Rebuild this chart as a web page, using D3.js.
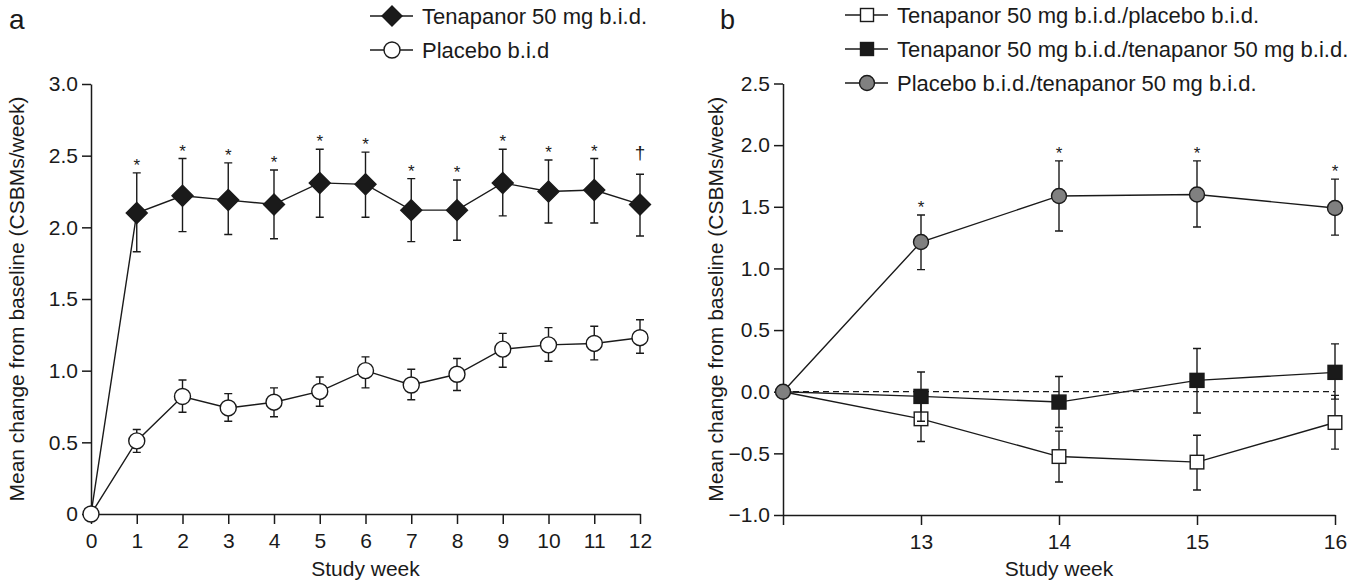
<!DOCTYPE html>
<html>
<head>
<meta charset="utf-8">
<script src="https://cdn.jsdelivr.net/npm/d3@7"></script>
<style>
  html, body { margin: 0; padding: 0; background: #fff; }
  svg { display: block; font-family: "Liberation Sans", Arial, sans-serif; }
</style>
</head>
<body>
<svg id="chart" width="1355" height="582"></svg>
<script>
// ---------- Panel a data ----------
const weeksA = [0, 1, 2, 3, 4, 5, 6, 7, 8, 9, 10, 11, 12];
const tenMean  = [0, 2.10, 2.22, 2.19, 2.16, 2.31, 2.30, 2.12, 2.12, 2.31, 2.25, 2.26, 2.16];
const tenUpper = [null, 2.38, 2.48, 2.45, 2.40, 2.545, 2.525, 2.34, 2.33, 2.545, 2.47, 2.48, 2.37];
const tenLower = [null, 1.83, 1.97, 1.95, 1.92, 2.07, 2.07, 1.90, 1.91, 2.08, 2.03, 2.03, 1.94];
const tenSig   = ["", "*", "*", "*", "*", "*", "*", "*", "*", "*", "*", "*", "†"];
const placMean  = [0, 0.51, 0.82, 0.74, 0.78, 0.855, 1.00, 0.90, 0.975, 1.15, 1.18, 1.19, 1.23];
const placUpper = [null, 0.59, 0.935, 0.84, 0.88, 0.956, 1.096, 1.01, 1.085, 1.26, 1.30, 1.31, 1.355];
const placLower = [null, 0.43, 0.71, 0.647, 0.678, 0.752, 0.88, 0.797, 0.862, 1.024, 1.066, 1.075, 1.122];
const yTicksA = [0, 0.5, 1.0, 1.5, 2.0, 2.5, 3.0];
const yLabelsA = ["0", "0.5", "1.0", "1.5", "2.0", "2.5", "3.0"];
const legendA = ["Tenapanor 50 mg b.i.d.", "Placebo b.i.d"];

// ---------- Panel b data ----------
const weeksB = [12, 13, 14, 15, 16];
const xTicksB = [12, 13, 14, 15, 16];
const xLabelsB = ["", "13", "14", "15", "16"];
const tpMean  = [0, -0.22, -0.526, -0.571, -0.25];
const tpUpper = [null, -0.04, -0.32, -0.353, -0.03];
const tpLower = [null, -0.404, -0.732, -0.797, -0.466];
const ttMean  = [0, -0.038, -0.084, 0.092, 0.157];
const ttUpper = [null, 0.16, 0.124, 0.35, 0.388];
const ttLower = [null, -0.24, -0.29, -0.173, -0.06];
const ptMean  = [0, 1.214, 1.588, 1.60, 1.49];
const ptUpper = [null, 1.433, 1.872, 1.872, 1.724];
const ptLower = [null, 0.99, 1.303, 1.336, 1.27];
const ptSig   = ["", "*", "*", "*", "*"];
const yTicksB = [-1.0, -0.5, 0, 0.5, 1.0, 1.5, 2.0, 2.5];
const yLabelsB = ["\u22121.0", "\u22120.5", "0.0", "0.5", "1.0", "1.5", "2.0", "2.5"];
const legendB = ["Tenapanor 50 mg b.i.d./placebo b.i.d.", "Tenapanor 50 mg b.i.d./tenapanor 50 mg b.i.d.", "Placebo b.i.d./tenapanor 50 mg b.i.d."];

const INK = "#1a1a1a";
const svg = d3.select("#chart");

// scales
const xA = d3.scaleLinear().domain([0, 12]).range([91, 640]);
const yA = d3.scaleLinear().domain([0, 3]).range([514, 84]);
const xB = d3.scaleLinear().domain([12, 16]).range([783, 1335]);
const yB = d3.scaleLinear().domain([-1, 2.5]).range([515, 83.5]);

function styleAxis(g) {
  g.select(".domain").attr("stroke", INK).attr("stroke-width", 1.5);
  g.selectAll(".tick line").attr("stroke", INK).attr("stroke-width", 1.5);
  g.selectAll(".tick text").attr("fill", INK).style("font-size", "21px")
    .style("font-family", "'Liberation Sans', Arial, sans-serif");
}

function drawAxes(x, y, xt, xl, yt, yl) {
  const gx = svg.append("g").attr("transform", `translate(0,${y.range()[0]})`)
    .call(d3.axisBottom(x).tickValues(xt).tickFormat((d, i) => xl[i]).tickSize(10).tickSizeOuter(0).tickPadding(9));
  styleAxis(gx);
  const gy = svg.append("g").attr("transform", `translate(${x.range()[0]},0)`)
    .call(d3.axisLeft(y).tickValues(yt).tickFormat((d, i) => yl[i]).tickSize(9).tickSizeOuter(0).tickPadding(4));
  styleAxis(gy);
}

const shapes = {
  diamond: (g, r) => g.append("path").attr("d", `M0,${-r}L${r},0L0,${r}L${-r},0Z`),
  circle: (g, r) => g.append("circle").attr("r", r),
  square: (g, r) => g.append("rect").attr("x", -r).attr("y", -r).attr("width", 2 * r).attr("height", 2 * r)
};

function drawSeries(x, y, weeks, mean, upper, lower, opts) {
  const pts = weeks.map((w, i) => ({ w, m: mean[i], u: upper[i], l: lower[i], s: opts.sig ? opts.sig[i] : "" }));
  const g = svg.append("g");
  g.append("path").datum(pts)
    .attr("d", d3.line().x(d => x(d.w)).y(d => y(d.m)))
    .attr("fill", "none").attr("stroke", INK).attr("stroke-width", 1.4);
  const eb = pts.filter(d => d.u !== null);
  const cap = 4;
  g.selectAll(".eb").data(eb).join("path")
    .attr("d", d => `M${x(d.w)},${y(d.l)}V${y(d.u)}M${x(d.w) - cap},${y(d.u)}H${x(d.w) + cap}M${x(d.w) - cap},${y(d.l)}H${x(d.w) + cap}`)
    .attr("fill", "none").attr("stroke", INK).attr("stroke-width", 1.4);
  const mk = opts.skipFirst ? pts.slice(1) : pts;
  mk.forEach(d => {
    const m = svg.append("g").attr("transform", `translate(${x(d.w)},${y(d.m)})`);
    shapes[opts.shape](m, opts.r).attr("fill", opts.fill).attr("stroke", INK).attr("stroke-width", 1.4);
  });
  pts.filter(d => d.s).forEach(d => {
    const dag = d.s === "†";
    svg.append("text").attr("x", x(d.w)).attr("y", y(d.u) - (dag ? 15 : 2))
      .attr("text-anchor", "middle").attr("fill", INK)
      .style("font-size", dag ? "19px" : "17px").text(d.s);
  });
}

function legendItem(x0, y0, shape, r, fill, label, fs) {
  svg.append("line").attr("x1", x0).attr("x2", x0 + 43).attr("y1", y0).attr("y2", y0)
    .attr("stroke", INK).attr("stroke-width", 1.4);
  const m = svg.append("g").attr("transform", `translate(${x0 + 22},${y0})`);
  shapes[shape](m, r).attr("fill", fill).attr("stroke", INK).attr("stroke-width", 1.4);
  svg.append("text").attr("x", x0 + 52).attr("y", y0 + 8).attr("fill", INK)
    .style("font-size", fs + "px").text(label);
}

// ---------- Panel a ----------
drawAxes(xA, yA, weeksA, weeksA.map(String), yTicksA, yLabelsA);
drawSeries(xA, yA, weeksA, tenMean, tenUpper, tenLower, { shape: "diamond", r: 10.5, fill: INK, sig: tenSig, skipFirst: true });
drawSeries(xA, yA, weeksA, placMean, placUpper, placLower, { shape: "circle", r: 8, fill: "#fff" });

svg.append("text").attr("x", 9).attr("y", 29).attr("fill", INK).style("font-size", "28px").text("a");
svg.append("text").attr("transform", `translate(24,${(yA(0) + yA(3)) / 2}) rotate(-90)`)
  .attr("text-anchor", "middle").attr("fill", INK).style("font-size", "21px")
  .text("Mean change from baseline (CSBMs/week)");
svg.append("text").attr("x", (xA(0) + xA(12)) / 2).attr("y", 576).attr("text-anchor", "middle")
  .attr("fill", INK).style("font-size", "21px").text("Study week");
legendItem(370, 16, "diamond", 10, INK, legendA[0], 22);
legendItem(370, 50, "circle", 8, "#fff", legendA[1], 22);

// ---------- Panel b ----------
drawAxes(xB, yB, xTicksB, xLabelsB, yTicksB, yLabelsB);
svg.append("line").attr("x1", xB(12)).attr("x2", xB(16)).attr("y1", yB(0)).attr("y2", yB(0))
  .attr("stroke", INK).attr("stroke-width", 1.3).attr("stroke-dasharray", "6,4");
drawSeries(xB, yB, weeksB, tpMean, tpUpper, tpLower, { shape: "square", r: 6.8, fill: "#fff", skipFirst: true });
drawSeries(xB, yB, weeksB, ttMean, ttUpper, ttLower, { shape: "square", r: 7, fill: INK, skipFirst: true });
drawSeries(xB, yB, weeksB, ptMean, ptUpper, ptLower, { shape: "circle", r: 7.5, fill: "#808080", sig: ptSig });

svg.append("text").attr("x", 720).attr("y", 29).attr("fill", INK).style("font-size", "27px").text("b");
svg.append("text").attr("transform", `translate(723,${(yB(-1) + yB(2.5)) / 2}) rotate(-90)`)
  .attr("text-anchor", "middle").attr("fill", INK).style("font-size", "21px")
  .text("Mean change from baseline (CSBMs/week)");
svg.append("text").attr("x", (xB(12) + xB(16)) / 2).attr("y", 576).attr("text-anchor", "middle")
  .attr("fill", INK).style("font-size", "21px").text("Study week");
legendItem(845, 15, "square", 6.5, "#fff", legendB[0], 22);
legendItem(845, 49, "square", 6.5, INK, legendB[1], 22);
legendItem(845, 83, "circle", 7.5, "#808080", legendB[2], 22);
</script>
</body>
</html>
